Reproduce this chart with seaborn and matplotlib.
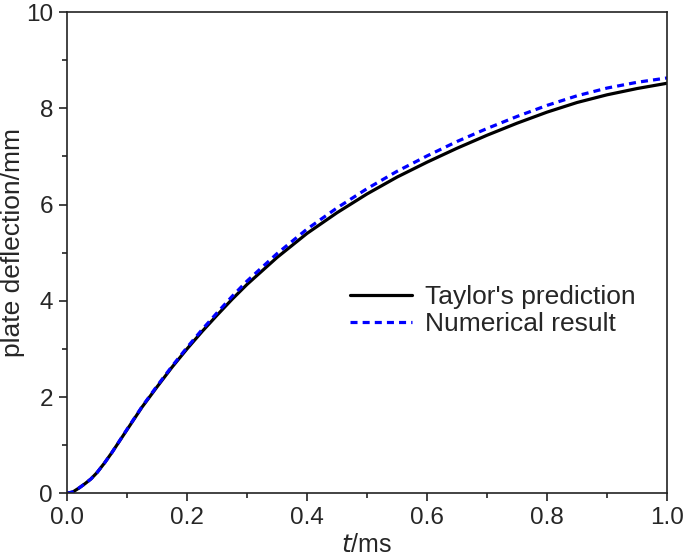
import matplotlib
matplotlib.use("Agg")
import matplotlib.pyplot as plt
import seaborn as sns
import pandas as pd
from matplotlib.ticker import MultipleLocator, FormatStrFormatter

# time axis (ms)
t_ms = [0.0, 0.01, 0.02, 0.03, 0.04, 0.05, 0.0625, 0.075, 0.1, 0.125, 0.15,
        0.175, 0.2, 0.225, 0.25, 0.275, 0.3, 0.35, 0.4, 0.45, 0.5, 0.55,
        0.6, 0.65, 0.7, 0.75, 0.8, 0.85, 0.9, 0.95, 1.0]

# plate deflection (mm)
taylor = [0.0, 0.03, 0.11, 0.2, 0.3, 0.43, 0.63, 0.85, 1.32, 1.79, 2.21,
          2.62, 3.0, 3.36, 3.7, 4.03, 4.34, 4.9, 5.4, 5.83, 6.22, 6.57,
          6.88, 7.17, 7.44, 7.69, 7.92, 8.12, 8.28, 8.41, 8.52]
numerical = [0.0, 0.03, 0.11, 0.2, 0.3, 0.43, 0.63, 0.85, 1.33, 1.8, 2.23,
             2.64, 3.03, 3.4, 3.75, 4.09, 4.41, 4.98, 5.49, 5.93, 6.33, 6.69,
             7.01, 7.31, 7.58, 7.83, 8.06, 8.26, 8.42, 8.54, 8.63]

df = pd.DataFrame({"t": t_ms, "taylor": taylor, "numerical": numerical})

sns.set_style("ticks")
plt.rcParams["font.family"] = ["Liberation Sans", "DejaVu Sans"]

fig = plt.figure(figsize=(6.85, 5.59), dpi=100)
ax = fig.add_axes([0.0978, 0.1175, 0.876, 0.861])

sns.lineplot(data=df, x="t", y="taylor", color="black", linewidth=2.3,
             label="Taylor's prediction", ax=ax)
sns.lineplot(data=df, x="t", y="numerical", color="#0000ff", linewidth=2.3,
             label="Numerical result", ax=ax)
ax.lines[1].set_dashes([2.2, 1.6])

ax.set_xlim(0, 1.0)
ax.set_ylim(0, 10)
ax.xaxis.set_major_locator(MultipleLocator(0.2))
ax.xaxis.set_minor_locator(MultipleLocator(0.1))
ax.yaxis.set_major_locator(MultipleLocator(2))
ax.yaxis.set_minor_locator(MultipleLocator(1))
ax.xaxis.set_major_formatter(FormatStrFormatter("%.1f"))

ax.tick_params(which="major", direction="out", length=6, width=1.2,
               labelsize=17.5, color="#222222", top=False, right=False,
               pad=4)
ax.tick_params(which="minor", direction="out", length=3.5, width=1.2,
               color="#222222", top=False, right=False)
for sp in ax.spines.values():
    sp.set_visible(True)
    sp.set_linewidth(1.2)
    sp.set_color("#222222")

ax.set_xlabel(r"$\it{t}$/ms", fontsize=18, labelpad=2.5)
ax.set_ylabel("plate deflection/mm", fontsize=19)
ax.yaxis.set_label_coords(-0.07, 0.522)

leg = ax.legend(loc="center left", bbox_to_anchor=(0.472, 0.38),
                frameon=False, fontsize=19, handlelength=2.35,
                handletextpad=0.5, labelspacing=0.1, borderaxespad=0,
                borderpad=0)
leg.get_lines()[1].set_dashes([2.2, 1.6])

fig.savefig("out.png", dpi=100)
